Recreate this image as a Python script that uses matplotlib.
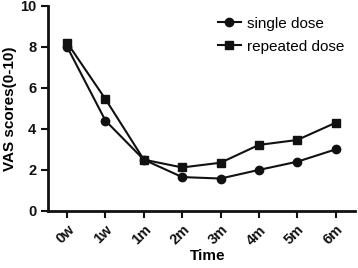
import matplotlib
matplotlib.use("Agg")
import matplotlib.pyplot as plt

plt.rcParams['font.family'] = ['Liberation Sans', 'DejaVu Sans']

times = ['0w', '1w', '1m', '2m', '3m', '4m', '5m', '6m']
single_dose = [8.0, 4.4, 2.5, 1.65, 1.58, 2.0, 2.4, 3.0]
repeated_dose = [8.2, 5.45, 2.5, 2.12, 2.35, 3.22, 3.46, 4.3]

fig = plt.figure(figsize=(3.58, 2.68), dpi=100)
ax = fig.add_axes([0.134, 0.213, 0.857, 0.765])

x = list(range(len(times)))
ax.plot(x, single_dose, color='#111111', marker='o', markersize=6, lw=1.5, label='single dose')
ax.plot(x, repeated_dose, color='#111111', marker='s', markersize=6, lw=1.5, label='repeated dose')

ax.set_xlim(-0.5, 7.5)
ax.set_ylim(0, 10)
ax.set_yticks([0, 2, 4, 6, 8, 10])
ax.set_xticks(x)
ax.set_xticklabels(times, rotation=45, ha='right', rotation_mode='anchor')

for s in ['top', 'right']:
    ax.spines[s].set_visible(False)
for s in ['left', 'bottom']:
    ax.spines[s].set_linewidth(2)
    ax.spines[s].set_color('#111111')
ax.tick_params(width=1.5, length=5, labelsize=10.5, colors='#111111')
for lbl in ax.get_xticklabels() + ax.get_yticklabels():
    lbl.set_fontweight('bold')

ax.set_ylabel('VAS scores(0-10)', fontsize=11, fontweight='bold', labelpad=2)
ax.set_xlabel('Time', fontsize=11, fontweight='bold', labelpad=0)
ax.xaxis.set_label_coords(0.52, -0.185)

ax.legend(loc='upper right', bbox_to_anchor=(1.0, 1.0), frameon=False, fontsize=11,
          handlelength=1.5, handletextpad=0.4, labelspacing=0.6, borderaxespad=0.3)

fig.savefig('out.png', dpi=100)
